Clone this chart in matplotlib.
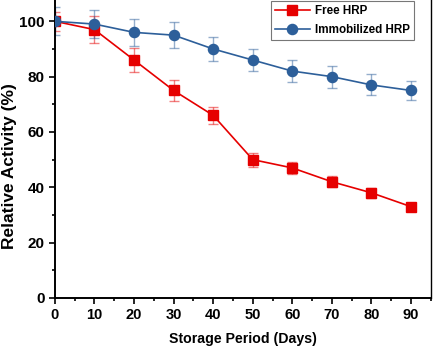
import matplotlib.pyplot as plt
import numpy as np
from matplotlib.ticker import MultipleLocator

days = [0, 10, 20, 30, 40, 50, 60, 70, 80, 90]
free_hrp = [100, 97, 86, 75, 66, 50, 47, 42, 38, 33]
free_err = [3.5, 5, 4.3, 3.7, 3.0, 2.5, 2.2, 2.0, 1.7, 1.3]
immob_hrp = [100, 99, 96, 95, 90, 86, 82, 80, 77, 75]
immob_err = [5, 5, 4.8, 4.7, 4.5, 4.0, 4.0, 4.0, 3.8, 3.6]


def main():
    plt.rcParams['font.family'] = ['Liberation Sans', 'DejaVu Sans']
    plt.rcParams['font.weight'] = 'bold'

    fig = plt.figure(figsize=(4.36, 3.53), dpi=100)
    ax = fig.add_axes([0.126, 0.156, 0.862, 0.862])

    red = '#e60000'
    blue = '#2d5f9a'

    ax.errorbar(days, free_hrp, yerr=free_err, fmt='none', ecolor=red,
                elinewidth=1, capsize=3.5, alpha=0.5, zorder=2)
    ax.plot(days, free_hrp, '-s', color=red, lw=1.2, ms=6.8, label='Free HRP', zorder=3)
    ax.errorbar(days, immob_hrp, yerr=immob_err, fmt='none', ecolor=blue,
                elinewidth=1, capsize=3.5, alpha=0.5, zorder=2)
    ax.plot(days, immob_hrp, '-o', color=blue, lw=1.2, ms=7.3, label='Immobilized HRP', zorder=3)

    ax.set_xlim(0, 95)
    ax.set_ylim(0, 110)
    ax.xaxis.set_major_locator(MultipleLocator(10))
    ax.xaxis.set_minor_locator(MultipleLocator(5))
    ax.yaxis.set_major_locator(MultipleLocator(20))
    ax.yaxis.set_minor_locator(MultipleLocator(10))
    ax.tick_params(which='both', direction='out', width=1.2)
    ax.tick_params(axis='x', labelsize=10.5)
    ax.tick_params(axis='y', labelsize=11)
    ax.tick_params(which='major', length=4)
    ax.tick_params(which='minor', length=2.5)
    for lab in ax.get_xticklabels() + ax.get_yticklabels():
        lab.set_fontweight('bold')

    for s in ['left', 'bottom']:
        ax.spines[s].set_linewidth(1.4)
    ax.spines['right'].set_linewidth(1.0)
    ax.spines['top'].set_visible(False)

    ax.set_xlabel('Storage Period (Days)', fontsize=10.2, fontweight='bold', labelpad=7)
    ax.set_ylabel('Relative Activity (%)', fontsize=12.5, fontweight='bold')
    ax.yaxis.set_label_coords(-0.1, 0.435)

    leg = ax.legend(loc='lower right', bbox_to_anchor=(414 / 436, 1 - 40 / 353),
                    bbox_transform=fig.transFigure, fontsize=8.4,
                    frameon=True, fancybox=False, edgecolor='#555555',
                    handlelength=3.0, handletextpad=0.45, borderpad=0.35,
                    labelspacing=0.55, borderaxespad=0)
    leg.get_frame().set_linewidth(0.8)

    fig.savefig('out.png', dpi=100)


if __name__ == "__main__":
    main()
